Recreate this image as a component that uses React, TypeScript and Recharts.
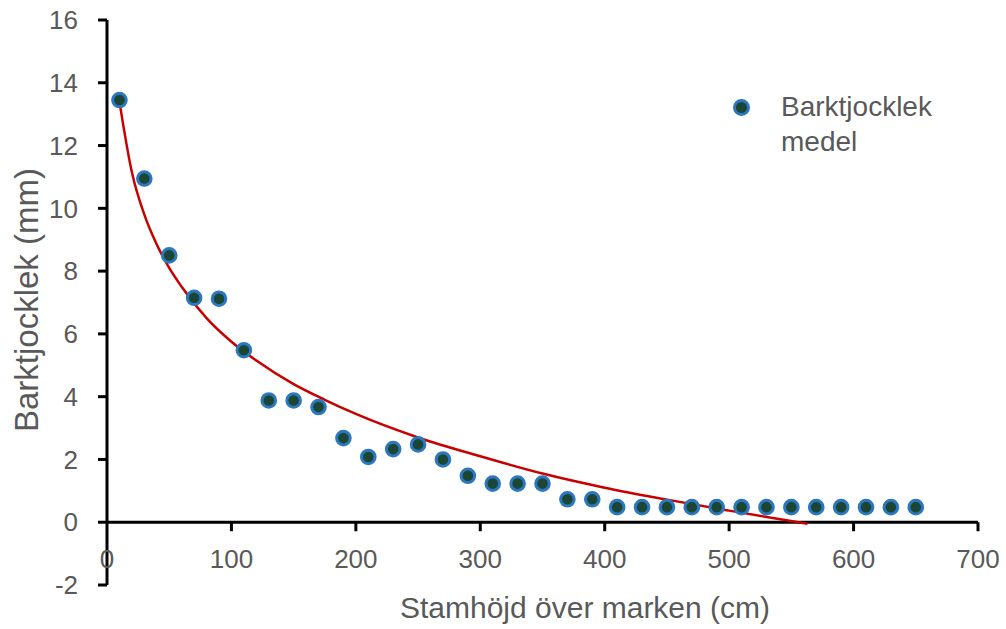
import { ComposedChart, Scatter, Line, XAxis, YAxis, ReferenceLine, Legend } from "recharts";

// stem height above ground (cm) and mean bark thickness (mm)
const heights = [10, 30, 50, 70, 90, 110, 130, 150, 170, 190, 210, 230, 250, 270, 290, 310, 330, 350, 370, 390, 410, 430, 450, 470, 490, 510, 530, 550, 570, 590, 610, 630, 650];
const thickness = [13.45, 10.95, 8.5, 7.15, 7.12, 5.48, 3.88, 3.88, 3.67, 2.68, 2.08, 2.33, 2.48, 2.0, 1.48, 1.23, 1.23, 1.23, 0.73, 0.73, 0.48, 0.48, 0.48, 0.48, 0.48, 0.48, 0.48, 0.48, 0.48, 0.48, 0.48, 0.48, 0.48];

// red trend line
const trendHeights = [10, 20, 30, 40, 50, 60, 80, 100, 120, 150, 175, 200, 250, 300, 350, 400, 450, 500, 540, 563];
const trendValues = [13.4, 11.15, 9.8, 8.85, 8.1, 7.5, 6.5, 5.75, 5.15, 4.4, 3.9, 3.45, 2.7, 2.1, 1.55, 1.1, 0.72, 0.37, 0.1, -0.05];

const xTicks = [0, 100, 200, 300, 400, 500, 600, 700];
const yTicks = [-2, 0, 2, 4, 6, 8, 10, 12, 14, 16];

const points = heights.map((x, i) => ({ x, y: thickness[i] }));
const trend = trendHeights.map((x, i) => ({ x, y: trendValues[i] }));

const FONT = '"Liberation Sans", Arial, sans-serif';
const GREY = "#595959";
const TOP = 20;
const PLOT_H = 565;
const ZERO_Y = TOP + (PLOT_H * 16) / 18;

function XTick({ x, payload }: any) {
    return (
        <g>
            {payload.value > 0 && <line x1={x} x2={x} y1={ZERO_Y} y2={ZERO_Y + 9} stroke="#000" strokeWidth={3} />}
            <text x={x} y={ZERO_Y + 46} textAnchor="middle" fill={GREY} fontSize={26} fontFamily={FONT}>
                {payload.value}
            </text>
        </g>
    );
}

function Dot({ cx, cy }: any) {
    return <circle cx={cx} cy={cy} r={6.8} fill="#1B4636" stroke="#2B78BF" strokeWidth={3} />;
}

function LegendBox() {
    return (
        <div style={{ display: "flex", fontFamily: FONT, fontSize: 28, lineHeight: "35px", color: GREY }}>
            <span style={{ width: 11, height: 11, borderRadius: "50%", background: "#1B4636", border: "3px solid #2B78BF", marginTop: 9 }} />
            <div style={{ marginLeft: 31, marginTop: -1 }}>
                Barktjocklek
                <br />
                medel
            </div>
        </div>
    );
}

export default function App() {
    return (
        <div style={{ position: "absolute", left: 0, top: 0, width: 1006, height: 629, background: "#fff", fontFamily: FONT }}>
            <ComposedChart width={1006} height={629} data={points} margin={{ top: TOP, right: 28, bottom: 0, left: 0 }}>
                <XAxis
                    type="number"
                    dataKey="x"
                    domain={[0, 700]}
                    ticks={xTicks}
                    interval={0}
                    height={44}
                    axisLine={false}
                    tickLine={false}
                    tick={<XTick />}
                    label={{
                        content: () => (
                            <text x={585} y={618} textAnchor="middle" fill={GREY} fontSize={30} fontFamily={FONT}>
                                Stamhöjd över marken (cm)
                            </text>
                        ),
                    }}
                />
                <YAxis
                    type="number"
                    domain={[-2, 16]}
                    ticks={yTicks}
                    interval={0}
                    width={107}
                    axisLine={{ stroke: "#000", strokeWidth: 3 }}
                    tickLine={{ stroke: "#000", strokeWidth: 3 }}
                    tickSize={9}
                    tickMargin={20}
                    tick={{ fill: GREY, fontSize: 26, fontFamily: FONT }}
                    label={{
                        content: () => (
                            <text
                                x={26}
                                y={300}
                                transform="rotate(-90 26 300)"
                                textAnchor="middle"
                                dominantBaseline="central"
                                fill={GREY}
                                fontSize={33}
                                fontFamily={FONT}
                            >
                                Barktjocklek (mm)
                            </text>
                        ),
                    }}
                />
                <ReferenceLine y={0} stroke="#000" strokeWidth={3} />
                <Legend
                    layout="vertical"
                    align="center"
                    verticalAlign="middle"
                    content={<LegendBox />}
                    wrapperStyle={{ top: 90, left: 733, width: 260 }}
                />
                <Scatter name="Barktjocklek medel" data={points} dataKey="y" shape={<Dot />} isAnimationActive={false} />
                <Line
                    data={trend}
                    dataKey="y"
                    type="monotone"
                    stroke="#C80000"
                    strokeWidth={2.5}
                    dot={false}
                    activeDot={false}
                    legendType="none"
                    isAnimationActive={false}
                />
            </ComposedChart>
        </div>
    );
}
